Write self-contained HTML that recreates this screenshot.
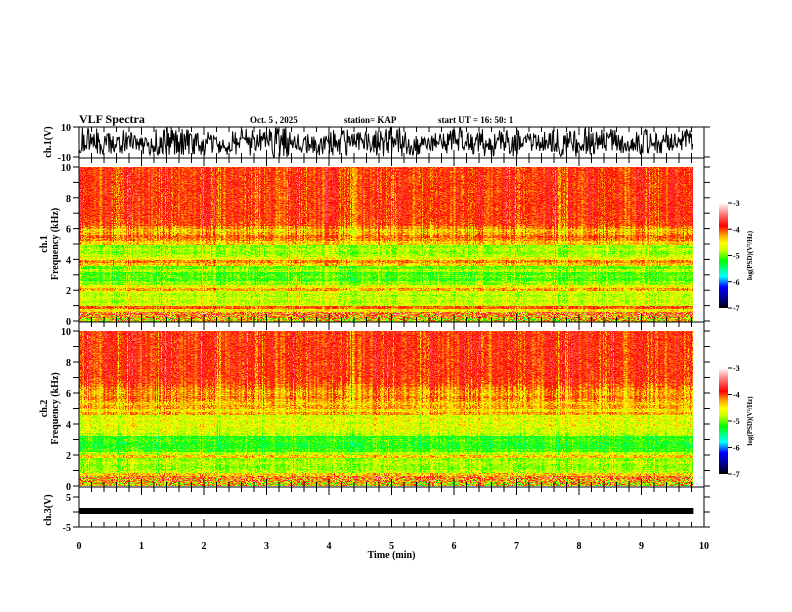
<!DOCTYPE html>
<html><head><meta charset="utf-8"><style>
body{margin:0;background:#fff;width:792px;height:612px;overflow:hidden;position:relative}
canvas{position:absolute;image-rendering:pixelated}
svg{position:absolute;left:0;top:0}
text{font-family:"Liberation Serif",serif;font-weight:bold;font-size:10px;fill:#000}
</style></head><body>
<canvas id="spec1" width="600" height="155" style="left:79px;top:167px;width:614px;height:155px"></canvas>
<canvas id="spec2" width="600" height="155" style="left:79px;top:331px;width:614px;height:155px"></canvas>
<svg id="svg" width="792" height="612">
<defs><linearGradient id="cb" x1="0" y1="1" x2="0" y2="0">
<stop offset="0" stop-color="#000000"/><stop offset="0.08" stop-color="#000080"/><stop offset="0.2" stop-color="#0000ff"/><stop offset="0.3" stop-color="#00ffff"/><stop offset="0.45" stop-color="#00ff00"/><stop offset="0.55" stop-color="#ccff00"/><stop offset="0.62" stop-color="#ffff00"/><stop offset="0.7" stop-color="#ff9900"/><stop offset="0.78" stop-color="#ff0000"/><stop offset="0.9" stop-color="#ff8080"/><stop offset="1" stop-color="#ffffff"/>
</linearGradient></defs>
<text x="79" y="123" font-size="12" style="font-size:12px">VLF Spectra</text>
<text x="250" y="123" style="font-size:9px">Oct. 5  , 2025</text>
<text x="344" y="123" style="font-size:9px">station= KAP</text>
<text x="438" y="123" style="font-size:9px">start  UT =   16: 50: 1</text>
<g id="axes"></g>
</svg>
<script>
// ---------- data ----------
const timeMax = 9.83; // minutes of data
const freqStep = 0.2; // kHz per profile entry
const ch1Profile = [-4.5,-4.2,-4.0,-4.5,-4.1,-4.7,-4.8,-4.7,-4.8,-4.7,-4.3,-4.6,-4.9,-5.1,-5.0,-5.1,-4.8,-5.0,-4.4,-4.2,-4.6,-4.8,-4.9,-4.8,-4.9,-4.4,-4.2,-4.1,-4.3,-4.4,-4.2,-4.0,-4.0,-3.95,-3.95,-3.95,-3.95,-3.95,-3.95,-3.95,-3.95,-3.95,-3.95,-3.95,-3.95,-3.95,-3.95,-3.95,-3.95,-3.95];
const ch2Profile = [-4.5,-4.2,-4.1,-4.4,-4.8,-4.9,-4.9,-4.8,-4.9,-4.4,-4.8,-5.1,-5.2,-5.2,-5.1,-5.2,-4.8,-4.7,-4.7,-4.6,-4.7,-4.6,-4.7,-4.3,-4.5,-4.3,-4.4,-4.3,-4.2,-4.3,-4.3,-4.2,-4.1,-4.0,-4.0,-3.95,-3.95,-3.95,-3.95,-3.95,-3.95,-3.95,-3.95,-3.95,-3.95,-3.95,-3.95,-3.95,-3.95,-3.95];
const columnStreaks = [0.2,-0.3,0.1,-0.4,0.3,-0.2,0.0,0.2,-0.3,0.1,0.3,-0.4,0.0,0.2,-0.2,0.1,-0.3,0.2,0.0,-0.2,0.3,0.1,-0.4,0.0,0.2,-0.1,0.3,-0.3,0.1,0.0,-0.2,0.2,0.1,-0.3,0.3,0.0,-0.2,0.1,0.2,-0.4,0.0,0.3,-0.1,0.1,-0.3,0.2,0.0,-0.2,0.3,0.1];
const ch1Envelope = [7,6,7,5,8,7,6,5,7,6,8,5,6,7,5,7,8,6,5,7,6,8,7,5,6,7,8,6,5,7,6,7];
const ch1Offset = [1,-1,0,-2,1,0,-1,-2,0,1,0,-1,-2,0,1,-1,0,-2,0,1,-1,0,-1,0,1,-1,0,1,-1,0,0,1];
const xTicks = [0,1,2,3,4,5,6,7,8,9,10];
const freqTicks = [0,2,4,6,8,10];
const cbTicks = [-3,-4,-5,-6,-7];

// ---------- axis funcs ----------
const X0=79,X1=704;
const xs = t => X0 + t/10*(X1-X0);
const NS='http://www.w3.org/2000/svg';
const g=document.getElementById('axes');
function el(tag,attrs,txt){const e=document.createElementNS(NS,tag);for(const k in attrs)e.setAttribute(k,attrs[k]);if(txt!==undefined)e.textContent=txt;g.appendChild(e);return e;}
function hash(a,b){let h=(a*374761393+b*668265263)|0;h=(h^(h>>>13))*1274126177|0;return ((h^(h>>>16))>>>0)/4294967296;}

function cmap(v){
  const s=[[-7,0,0,0],[-6.7,0,0,128],[-6.2,0,0,255],[-5.8,0,255,255],[-5.2,0,255,0],[-4.8,200,255,0],[-4.5,255,255,0],[-4.25,255,150,0],[-3.9,255,0,0],[-3.3,255,128,128],[-2.9,255,255,255]];
  if(v<=s[0][0])return s[0].slice(1);
  for(let i=1;i<s.length;i++){if(v<=s[i][0]){const a=s[i-1],b=s[i],f=(v-a[0])/(b[0]-a[0]);return [a[1]+f*(b[1]-a[1]),a[2]+f*(b[2]-a[2]),a[3]+f*(b[3]-a[3])];}}
  return [255,255,255];
}
function drawSpec(id,profile,seed){
  const c=document.getElementById(id),ctx=c.getContext('2d');
  const W=c.width,H=c.height,img=ctx.createImageData(W,H);
  for(let x=0;x<W;x++){
    const t=x/W*timeMax;
    const ci=Math.floor(t/timeMax*columnStreaks.length)%columnStreaks.length;
    const colN=hash(x,seed)-0.5;
    for(let y=0;y<H;y++){
      const f=(H-1-y)/(H-1)*10;
      const pi=Math.min(profile.length-1,Math.floor(f/freqStep));
      const w=f>5.5?0.7:0.4;
      let v=profile[pi]+(columnStreaks[ci]*0.4+colN*0.8)*w+(hash(x*7+y,y*13+seed)-0.5)*0.55;
      if(f<0.6) v+= (hash(y,x+seed)-0.5)*1.6;
      const [r,gg,b]=cmap(v);const o=(y*W+x)*4;
      img.data[o]=r;img.data[o+1]=gg;img.data[o+2]=b;img.data[o+3]=255;
    }
  }
  ctx.putImageData(img,0,0);
}
drawSpec('spec1',ch1Profile,11);
drawSpec('spec2',ch2Profile,29);

function box(y0,y1,name){
  const r=el('rect',{x:X0,y:y0,width:X1-X0,height:y1-y0,fill:'none',stroke:'#000','stroke-width':1});
  
  
  for(let t=0;t<=10.001;t+=0.2){
    const maj=Math.abs(t-Math.round(t))<0.01,L=maj?8:5,x=xs(t);
    el('line',{x1:x,y1:y0,x2:x,y2:y0+L,stroke:'#000'});
    el('line',{x1:x,y1:y1,x2:x,y2:y1-L,stroke:'#000'});
  }
}
function yTick(y,lab,name){
  el('line',{x1:X0-6,y1:y,x2:X0,y2:y,stroke:'#000'});
  el('line',{x1:X1,y1:y,x2:X1+6,y2:y,stroke:'#000'});
  if(lab!==null){const tx=el('text',{x:X0-8,y:y+4,'text-anchor':'end'},lab);
  
  }
}
function ylabel(x,y,lines,name){
  const tx=el('text',{transform:`translate(${x},${y}) rotate(-90)`,'text-anchor':'middle'});
  
  
  lines.forEach((s,i)=>{const ts=document.createElementNS(NS,'tspan');ts.setAttribute('x',0);ts.setAttribute('dy',i?11:0);ts.textContent=s;tx.appendChild(ts);});
}

// ch1 waveform
box(127,158,'ch1-panel');
const yw=v=>142-v*15/10;
let d='';
const N=900;
for(let i=0;i<N;i++){
  const t=i/N*timeMax, k=Math.floor(i/N*ch1Envelope.length);
  const v=ch1Offset[k]+(hash(i,5)-0.5)*2*ch1Envelope[k]*1.3;
  d+=(i?'L':'M')+xs(t).toFixed(1)+','+yw(Math.max(-10,Math.min(10,v))).toFixed(1);
}
const wp=el('path',{d:d,fill:'none',stroke:'#000','stroke-width':1});


yTick(127,'10','ch1-tick');yTick(157,'-10','ch1-tick');
ylabel(51,142,['ch.1(V)'],'ch1-y-title');

// spectrograms
function specAxes(y0,y1,iy0,iy1,lbl,name){
  box(y0,y1,name);
  freqTicks.forEach(f=>yTick(iy1-(f/10)*(iy1-iy0),String(f),'freq-tick'));
  for(let f=1;f<10;f+=2)yTick(iy1-(f/10)*(iy1-iy0),null);
  ylabel(47,(iy0+iy1)/2,[lbl,'Frequency  (kHz)'],name+'-y-title');
}
specAxes(158,322,167,321,'ch.1','ch1-spectrogram-panel');
specAxes(322,487,331,486,'ch.2','ch2-spectrogram-panel');

// ch3
box(487,527,'ch3-panel');
const y3=v=>512-v*15/5;
yTick(y3(5),'5','ch3-tick');yTick(y3(-5),'-5','ch3-tick');yTick(y3(0),null);
const b3=el('rect',{x:X0,y:508,width:xs(timeMax)-X0,height:6,fill:'#000'});


ylabel(51,510,['ch.3(V)'],'ch3-y-title');

xTicks.forEach(t=>{const tx=el('text',{x:xs(t),y:549,'text-anchor':'middle'},String(t));
  
  });
const xt=el('text',{x:xs(5),y:558,'text-anchor':'middle'},'Time  (min)');



// colorbars
function colorbar(y0,y1,name){
  const r=el('rect',{x:719,y:y0,width:9,height:y1-y0,fill:'url(#cb)'});
  
  
  cbTicks.forEach(v=>{const y=y0+(-3-v)/4*(y1-y0);
    el('line',{x1:728,y1:y,x2:732,y2:y,stroke:'#000'});
    const tx=el('text',{x:733,y:y+3,style:'font-size:8px'},String(v));
    
    });
  const tl=el('text',{transform:`translate(752,${(y0+y1)/2}) rotate(-90)`,'text-anchor':'middle',style:'font-size:7px'},'log(PSD)(V²/Hz)');
  
  
}
colorbar(203,308,'ch1-colorbar');
colorbar(368,474,'ch2-colorbar');
</script>
</body></html>
